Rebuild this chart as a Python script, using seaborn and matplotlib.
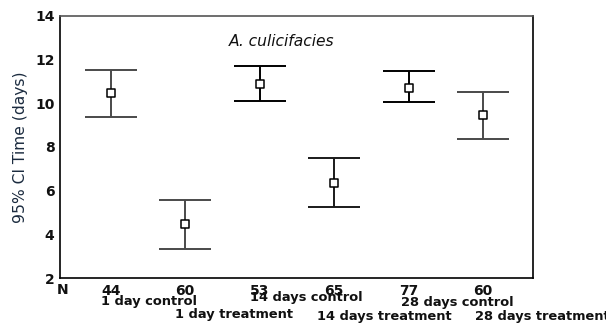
import matplotlib
matplotlib.use("Agg")
import matplotlib.pyplot as plt
import seaborn as sns
import pandas as pd
import numpy as np

groups = ["1 day control", "1 day treatment", "14 days control",
          "14 days treatment", "28 days control", "28 days treatment"]
n_values = [44, 60, 53, 65, 77, 60]
means = [10.45, 4.47, 10.86, 6.34, 10.70, 9.46]
ci_low = [9.38, 3.31, 10.10, 5.26, 10.04, 8.37]
ci_high = [11.51, 5.57, 11.71, 7.50, 11.47, 10.51]
line_colors = ["#4a4a4a", "#4a4a4a", "#000000", "#1a1a1a", "#000000", "#4a4a4a"]
yticks = [2, 4, 6, 8, 10, 12, 14]

df = pd.DataFrame({"pos": np.arange(len(groups)), "group": groups, "mean": means,
                   "lo": ci_low, "hi": ci_high, "n": n_values})

sns.set_style("white")
plt.rcParams["font.family"] = ["DejaVu Sans"]

fig = plt.figure(figsize=(6.06, 3.24), dpi=100)
ax = fig.add_axes([60/606, 1 - 278/324, (533-60)/606, (278-15.7)/324])

cap = 0.35
for i, r in df.iterrows():
    c = line_colors[i]
    ax.vlines(r["pos"], r["lo"], r["hi"], color=c, lw=1.4, zorder=2)
    ax.hlines([r["lo"], r["hi"]], r["pos"] - cap, r["pos"] + cap, color=c, lw=1.4, zorder=2)

sns.scatterplot(data=df, x="pos", y="mean", ax=ax, marker="s", s=36,
                facecolor="white", edgecolor="black", linewidth=1.1, zorder=3, legend=False)

ax.set_xlim(-0.68, 5.67)
ax.set_ylim(2, 14)
ax.set_yticks(yticks)
ax.set_yticklabels([str(t) for t in yticks], fontsize=10, fontweight="bold", color="#111111")
ax.set_xticks(df["pos"])
ax.set_xticklabels([str(n) for n in n_values], fontsize=10, fontweight="bold", color="#111111")
ax.tick_params(axis="both", length=3, width=2.5, color="black", pad=1, direction="out")
ax.set_xlabel("")
ax.set_ylabel("95% CI Time (days)", fontsize=11.2, color="#1b2b3f", labelpad=5)

for side in ["left", "bottom", "right"]:
    ax.spines[side].set_color("black")
    ax.spines[side].set_linewidth(1.2)
ax.spines["top"].set_color("#555555")
ax.spines["top"].set_linewidth(1.2)

fig.text(229/606, 1 - 41/324, "A. culicifacies", fontsize=11.2, style="italic",
         color="#111111", va="center", ha="left")

fig.text(57/606, 1 - 290/324, "N", fontsize=10, fontweight="bold", color="#111111",
         va="center", ha="left")

trans = ax.get_xaxis_transform()
offsets = [-10, -10, -10, -17, -8, -8]
yrow = [301.5, 314.5, 297.5, 316.5, 302.5, 316.5]
for i, g in enumerate(groups):
    ax.annotate(g, xy=(df["pos"][i], 0), xycoords=trans,
                xytext=(offsets[i], -(yrow[i] - 278)), textcoords="offset pixels",
                fontsize=9.4, fontweight="bold", color="#111111",
                ha="left", va="center", annotation_clip=False)

fig.savefig("out.png", dpi=100)
